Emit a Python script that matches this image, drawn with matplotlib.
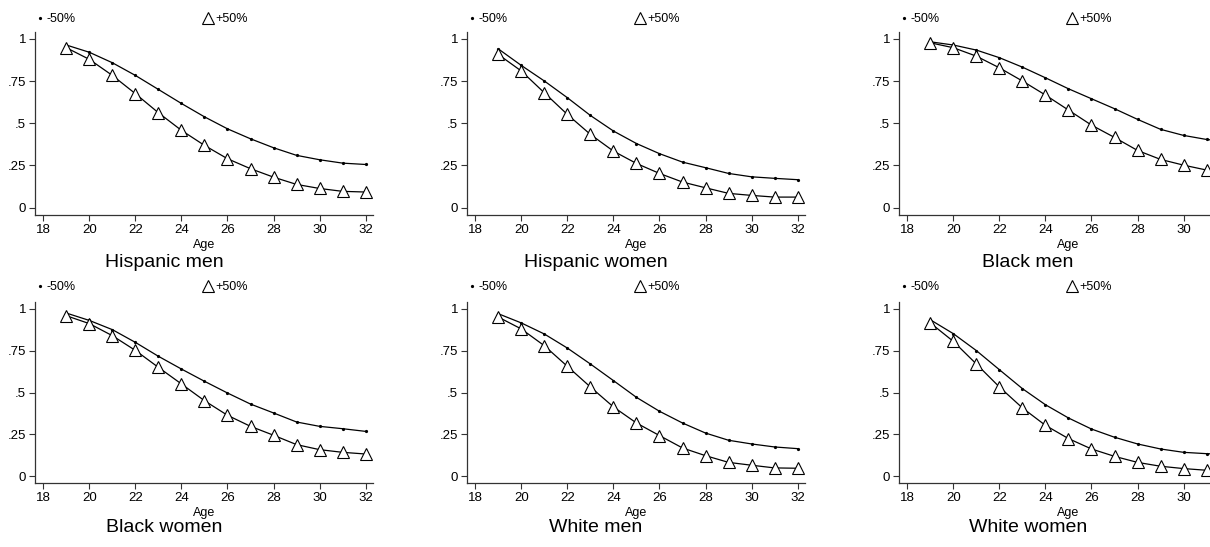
import matplotlib
matplotlib.use("Agg")
import matplotlib.pyplot as plt
from matplotlib.lines import Line2D
from matplotlib import font_manager

# ---------------- data ----------------
ages = list(range(19, 33))

hisp_men_minus = [0.963, 0.92, 0.858, 0.783, 0.70, 0.617, 0.538, 0.467, 0.408, 0.355, 0.31, 0.284, 0.264, 0.256]
hisp_men_plus = [0.947, 0.878, 0.783, 0.675, 0.562, 0.458, 0.369, 0.29, 0.231, 0.181, 0.138, 0.114, 0.097, 0.093]

hisp_women_minus = [0.94, 0.842, 0.75, 0.651, 0.546, 0.454, 0.38, 0.32, 0.27, 0.237, 0.203, 0.183, 0.174, 0.166]
hisp_women_plus = [0.907, 0.809, 0.68, 0.552, 0.434, 0.335, 0.262, 0.203, 0.152, 0.118, 0.085, 0.073, 0.063, 0.063]

black_men_minus = [0.982, 0.963, 0.933, 0.888, 0.832, 0.769, 0.704, 0.645, 0.586, 0.523, 0.464, 0.428, 0.404, 0.39]
black_men_plus = [0.976, 0.947, 0.897, 0.828, 0.75, 0.667, 0.578, 0.489, 0.416, 0.339, 0.286, 0.252, 0.223, 0.21]

black_women_minus = [0.974, 0.93, 0.875, 0.799, 0.716, 0.64, 0.567, 0.497, 0.431, 0.378, 0.324, 0.298, 0.284, 0.268]
black_women_plus = [0.958, 0.911, 0.839, 0.751, 0.65, 0.551, 0.451, 0.364, 0.298, 0.245, 0.189, 0.159, 0.143, 0.133]

white_men_minus = [0.97, 0.915, 0.849, 0.765, 0.67, 0.571, 0.471, 0.388, 0.318, 0.258, 0.215, 0.193, 0.175, 0.165]
white_men_plus = [0.95, 0.879, 0.779, 0.656, 0.533, 0.414, 0.318, 0.243, 0.169, 0.123, 0.083, 0.066, 0.05, 0.048]

white_women_minus = [0.934, 0.851, 0.75, 0.636, 0.523, 0.427, 0.348, 0.282, 0.233, 0.193, 0.163, 0.143, 0.135, 0.13]
white_women_plus = [0.915, 0.805, 0.67, 0.533, 0.408, 0.304, 0.225, 0.163, 0.119, 0.083, 0.06, 0.046, 0.036, 0.03]

panel_titles = ["Hispanic men", "Hispanic women", "Black men",
                "Black women", "White men", "White women"]
panel_minus = [hisp_men_minus, hisp_women_minus, black_men_minus,
               black_women_minus, white_men_minus, white_women_minus]
panel_plus = [hisp_men_plus, hisp_women_plus, black_men_plus,
              black_women_plus, white_men_plus, white_women_plus]

legend_labels = ["-50%", "+50%"]
x_ticks = [18, 20, 22, 24, 26, 28, 30, 32]
x_ticks_cut = [18, 20, 22, 24, 26, 28, 30]   # right column runs past the figure edge
y_ticks = [0, 0.25, 0.5, 0.75, 1]
y_ticklabels = ["0", ".25", ".5", ".75", "1"]
x_label = "Age"

# ---------------- style ----------------
names = {f.name for f in font_manager.fontManager.ttflist}
fam = ["Liberation Sans Narrow", "Liberation Sans", "DejaVu Sans"]
fam = [f for f in fam if f in names] or ["DejaVu Sans"]
plt.rcParams["font.family"] = fam

W, H = 1210, 547
fig = plt.figure(figsize=(W / 100, H / 100), dpi=100)

col_left = [35, 467, 899]
ax_w = 338
rows = [(32, 214.5), (302, 483)]  # top, bottom in px
leg_y_px = [19, 287]
age_y_px = [245, 513]
title_y_px = [262.5, 528]

tick_fs = 9.5
leg_fs = 9
title_fs = 14
tri_ms = 9
dot_ms = 1.3

for i in range(6):
    r, c = divmod(i, 3)
    top, bot = rows[r]
    ax = fig.add_axes([col_left[c] / W, (H - bot) / H, ax_w / W, (bot - top) / H])
    ax.plot(ages, panel_minus[i], color="black", lw=0.9, marker="o", ms=dot_ms,
            label=legend_labels[0])
    ax.plot(ages, panel_plus[i], color="black", lw=0.9, marker="^", ms=tri_ms,
            mfc="white", mec="black", mew=0.8, label=legend_labels[1])
    ax.set_xlim(17.64, 32.32)
    ax.set_ylim(-0.04, 1.04)
    ax.set_xticks(x_ticks_cut if c == 2 else x_ticks)
    ax.set_yticks(y_ticks)
    ax.set_yticklabels(y_ticklabels)
    for s in ("top", "right"):
        ax.spines[s].set_visible(False)
    for s in ("left", "bottom"):
        ax.spines[s].set_linewidth(0.9)
        ax.spines[s].set_color("#333333")
    ax.tick_params(axis="both", direction="out", length=4, width=0.8,
                   color="#333333", labelsize=tick_fs, pad=2.5)
    ax.set_xlabel(x_label, fontsize=leg_fs, va="center")
    h_ax = bot - top
    ax.xaxis.set_label_coords(0.5, -(age_y_px[r] - bot) / h_ax)

    # legend
    handles = [Line2D([], [], color="black", marker="o", ms=dot_ms, ls="none"),
               Line2D([], [], color="black", marker="^", ms=tri_ms, mfc="white",
                      mec="black", mew=0.8, ls="none")]
    fs_px = leg_fs * 100 / 72
    hl = 0.5
    htp = 0.3
    ly = (bot - leg_y_px[r]) / h_ax
    lx = (5 - hl * fs_px / 2) / ax_w
    leg = ax.legend(handles, legend_labels, ncol=2, loc="center left",
                    bbox_to_anchor=(lx, ly), frameon=False, fontsize=leg_fs,
                    handlelength=hl, handletextpad=htp, borderpad=0,
                    borderaxespad=0, columnspacing=10)
    fig.canvas.draw()
    tw = leg.get_texts()[0].get_window_extent().width
    cs = (168 - hl * fs_px - htp * fs_px - tw) / fs_px
    leg.remove()
    leg = ax.legend(handles, legend_labels, ncol=2, loc="center left",
                    bbox_to_anchor=(lx, ly), frameon=False, fontsize=leg_fs,
                    handlelength=hl, handletextpad=htp, borderpad=0,
                    borderaxespad=0, columnspacing=cs)

    cx = col_left[c] + ax_w / 2 - 40
    fig.text(cx / W, (H - title_y_px[r]) / H, panel_titles[i],
             fontsize=title_fs, ha="center", va="center")

fig.savefig("out.png", dpi=100)
